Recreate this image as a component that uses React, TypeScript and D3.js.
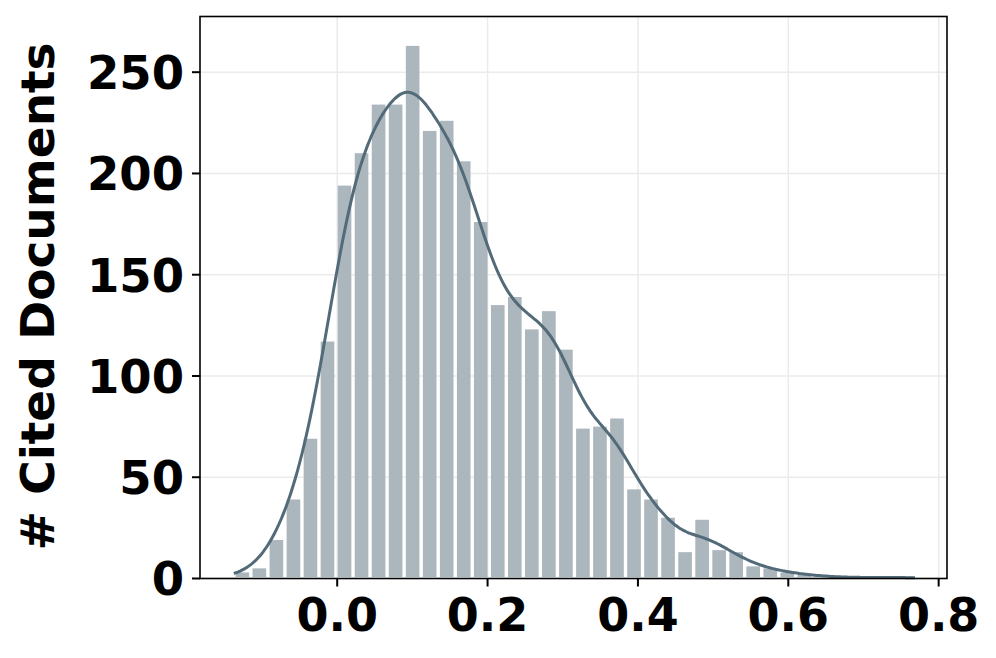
import React from "react";
import * as d3 from "d3";

// Histogram bins (left edge of first bin and bin width in data units)
const binStart = -0.1375;
const binWidth = 0.02265;
const counts = [
  3, 5, 19, 39, 69, 117, 194, 210, 234, 234,
  263, 221, 226, 206, 176, 135, 139, 123, 132, 113,
  74, 75, 79, 44, 39, 30, 13, 29, 14, 13,
  6, 5, 3, 2, 1, 1, 0, 1, 0, 1,
];
const xTicks = [0.0, 0.2, 0.4, 0.6, 0.8];
const yTicks = [0, 50, 100, 150, 200, 250];
const yLabel = "# Cited Documents";

const W = 996;
const H = 658;
const left = 200;
const right = 947;
const top = 16.5;
const bottom = 578.5;
const FONT = "'DejaVu Sans', sans-serif";

export default function App() {
  const x = d3.scaleLinear().domain([-0.1825, 0.8111]).range([left, right]);
  const y = d3.scaleLinear().domain([0, 277.5]).range([bottom, top]);

  // weighted Gaussian KDE (Scott's rule) over bin centers
  const centers = counts.map((_, i) => binStart + (i + 0.5) * binWidth);
  const N = d3.sum(counts);
  const mean = d3.sum(centers.map((c, i) => c * counts[i])) / N;
  const variance =
    d3.sum(centers.map((c, i) => counts[i] * (c - mean) ** 2)) / N + (binWidth * binWidth) / 12;
  const sd = Math.sqrt(variance);
  const bw = sd * Math.pow(N, -0.2);
  const xEnd = binStart + counts.length * binWidth;
  const kdePts: [number, number][] = d3.range(0, 301).map((j) => {
    const xv = binStart + ((xEnd - binStart) * j) / 300;
    let dens = 0;
    centers.forEach((c, i) => {
      const z = (xv - c) / bw;
      dens += counts[i] * Math.exp(-0.5 * z * z);
    });
    dens = dens / (N * bw * Math.sqrt(2 * Math.PI));
    return [xv, dens * N * binWidth];
  });
  const line = d3
    .line<[number, number]>()
    .x((d) => x(d[0]))
    .y((d) => y(d[1]))
    .curve(d3.curveBasis);

  const shrink = 0.8;
  const bwPx = x(binWidth) - x(0);

  return (
    <svg
      width={W}
      height={H}
      style={{ position: "absolute", left: 0, top: 0, background: "#fff" }}
      fontFamily={FONT}
    >
      <rect x={0} y={0} width={W} height={H} fill="#fff" />
      {/* grid */}
      {xTicks.map((t) => (
        <line key={"gx" + t} x1={x(t)} x2={x(t)} y1={top} y2={bottom} stroke="#ebebeb" strokeWidth={1.5} />
      ))}
      {yTicks.map((t) => (
        <line key={"gy" + t} x1={left} x2={right} y1={y(t)} y2={y(t)} stroke="#ebebeb" strokeWidth={1.5} />
      ))}
      {/* bars */}
      {counts.map((c, i) =>
        c > 0 ? (
          <rect
            key={"b" + i}
            x={x(centers[i]) - (bwPx * shrink) / 2}
            width={bwPx * shrink}
            y={y(c)}
            height={y(0) - y(c) - 1.5}
            fill="#abb6bd"
          />
        ) : null
      )}
      {/* kde */}
      <path d={line(kdePts) || ""} fill="none" stroke="#536b79" strokeWidth={3} />
      {/* frame */}
      <rect x={left} y={top} width={right - left} height={bottom - top} fill="none" stroke="#000" strokeWidth={1.6} />
      {/* x ticks */}
      {xTicks.map((t) => (
        <g key={"xt" + t}>
          <line x1={x(t)} x2={x(t)} y1={bottom} y2={bottom + 8} stroke="#000" strokeWidth={2} />
          <text x={x(t)} y={631} textAnchor="middle" fontSize={46} fontWeight="bold" fill="#000">
            {t.toFixed(1)}
          </text>
        </g>
      ))}
      {/* y ticks */}
      {yTicks.map((t) => (
        <g key={"yt" + t}>
          <line x1={left - 8} x2={left} y1={y(t)} y2={y(t)} stroke="#000" strokeWidth={2} />
          <text
            x={184}
            y={y(t) + 16.8}
            textAnchor="end"
            fontSize={46.5}
            fontWeight="bold"
            fill="#000"
          >
            {t}
          </text>
        </g>
      ))}
      {/* y label */}
      <text
        transform={`translate(54,296.5) rotate(-90)`}
        textAnchor="middle"
        fontSize={47}
        fontWeight="bold"
        fill="#000"
      >
        {yLabel}
      </text>
    </svg>
  );
}
